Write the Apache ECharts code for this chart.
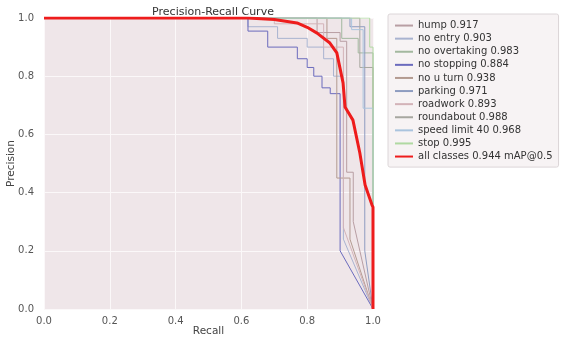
<!DOCTYPE html>
<html>
<head>
<meta charset="utf-8">
<script src="https://cdn.jsdelivr.net/npm/echarts@6/dist/echarts.min.js"></script>
<style>
  html, body { margin: 0; padding: 0; background: #fff; }
  #chart { width: 567px; height: 343px; }
</style>
</head>
<body>
<div id="chart"></div>
<script>
// 刻度
const ticks = [0, 0.2, 0.4, 0.6, 0.8, 1.0]

// 每个类别的 [recall, precision] 点
const hump = [[0, 1], [0.83, 1], [0.83, 0.95], [0.9, 0.95], [0.9, 0.92], [0.92, 0.92], [0.92, 0.47], [0.94, 0.47], [0.94, 0.3], [1, 0]]
const noEntry = [[0, 1], [0.62, 1], [0.62, 0.97], [0.71, 0.97], [0.71, 0.93], [0.8, 0.93], [0.8, 0.9], [0.85, 0.9], [0.85, 0.86], [0.88, 0.86], [0.88, 0.8], [0.91, 0.8], [0.91, 0.24], [1, 0]]
const noOvertaking = [[0, 1], [0.905, 1], [0.905, 0.93], [0.955, 0.93], [0.955, 0.88], [1, 0.88], [1, 0]]
const noStopping = [[0, 1], [0.62, 1], [0.62, 0.955], [0.68, 0.955], [0.68, 0.9], [0.77, 0.9], [0.77, 0.86], [0.8, 0.86], [0.8, 0.83], [0.82, 0.83], [0.82, 0.8], [0.845, 0.8], [0.845, 0.76], [0.87, 0.76], [0.87, 0.74], [0.9, 0.74], [0.9, 0.2], [1, 0]]
const noUTurn = [[0, 1], [0.86, 1], [0.86, 0.93], [0.89, 0.93], [0.89, 0.45], [0.93, 0.45], [0.93, 0.24], [1, 0]]
const parking = [[0, 1], [0.93, 1], [0.93, 0.97], [0.975, 0.97], [0.975, 0.2], [1, 0]]
const roadwork = [[0, 1], [0.7, 1], [0.7, 0.98], [0.85, 0.98], [0.85, 0.9], [0.91, 0.9], [0.91, 0.28], [1, 0]]
const roundabout = [[0, 1], [0.96, 1], [0.96, 0.83], [1, 0.83], [1, 0]]
const speedLimit40 = [[0, 1], [0.935, 1], [0.935, 0.96], [0.97, 0.96], [0.97, 0.69], [1, 0.69], [1, 0]]
const stop = [[0, 1], [0.99, 1], [0.99, 0.9], [1, 0.9], [1, 0]]
const allClasses = [[0, 1], [0.62, 1], [0.7, 0.995], [0.769, 0.983], [0.8, 0.968], [0.83, 0.948], [0.869, 0.914], [0.89, 0.88], [0.909, 0.777], [0.915, 0.694], [0.939, 0.649], [0.96, 0.536], [0.976, 0.426], [0.997, 0.357], [1, 0.35], [1, 0]]

const names = ['hump 0.917', 'no entry 0.903', 'no overtaking 0.983', 'no stopping 0.884', 'no u turn 0.938',
  'parking 0.971', 'roadwork 0.893', 'roundabout 0.988', 'speed limit 40 0.968', 'stop 0.995']
const curves = [hump, noEntry, noOvertaking, noStopping, noUTurn, parking, roadwork, roundabout, speedLimit40, stop]
const colors = ['#b89ea3', '#a9b3d0', '#a3b89f', '#6b6bbd', '#b39a90', '#8e9cc0', '#d3b3b8', '#a7a7a0', '#aac4de', '#b0d9a2']

const chart = echarts.init(document.getElementById('chart'))

const series = curves.map((data, i) => ({
  type: 'line',
  name: names[i],
  data: data,
  symbol: 'none',
  lineStyle: { width: 1, color: colors[i] },
  itemStyle: { color: colors[i] },
  animation: false
}))
series.push({
  type: 'line',
  name: 'all classes 0.944 mAP@0.5',
  data: allClasses,
  symbol: 'none',
  lineStyle: { width: 3, color: '#ee1c1c' },
  itemStyle: { color: '#ee1c1c' },
  animation: false
})

const font = 'DejaVu Sans'
const axisCommon = {
  type: 'value',
  min: 0,
  max: 1,
  interval: 0.2,
  axisLine: { show: false },
  axisTick: { show: false },
  axisLabel: { color: '#555', fontSize: 10, fontFamily: font, formatter: v => v.toFixed(1) },
  splitLine: { lineStyle: { color: '#fbf8f9', width: 1 } },
  nameLocation: 'middle',
  nameMoveOverlap: false,
  nameTextStyle: { color: '#444', fontSize: 10.5, fontFamily: font }
}

chart.setOption({
  animation: false,
  title: {
    text: 'Precision-Recall Curve',
    left: 208,
    top: 2,
    textAlign: 'center',
    textStyle: { color: '#333', fontSize: 11, fontWeight: 'normal', fontFamily: font }
  },
  grid: { left: 44, right: 194, top: 18, bottom: 34, outerBoundsMode: 'none', show: true, backgroundColor: '#efe6e9', borderWidth: 0 },
  xAxis: Object.assign({}, axisCommon, { name: 'Recall', nameGap: 17, axisLabel: Object.assign({}, axisCommon.axisLabel, { margin: 7 }) }),
  yAxis: Object.assign({}, axisCommon, { name: 'Precision', nameGap: 27, axisLabel: Object.assign({}, axisCommon.axisLabel, { margin: 10 }) }),
  legend: {
    orient: 'vertical',
    left: 388,
    top: 14,
    padding: [5, 6, 4, 6],
    itemGap: 0,
    itemWidth: 18,
    itemHeight: 8,
    backgroundColor: '#f7f3f4',
    borderColor: '#dcd6d8',
    borderWidth: 1,
    borderRadius: 2,
    itemStyle: { opacity: 0 },
    textStyle: { color: '#333', fontSize: 10, fontFamily: font, lineHeight: 13.1 },
    data: names.concat(['all classes 0.944 mAP@0.5'])
  },
  series: series
})
</script>
</body>
</html>
